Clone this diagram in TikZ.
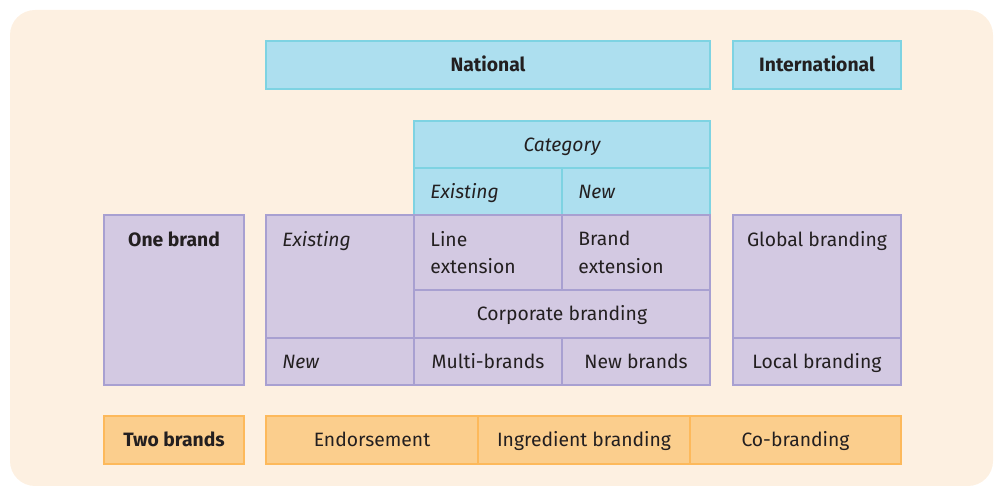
\documentclass[tikz,border=0pt]{standalone}
\usepackage{fontspec}
\setmainfont{Fira Sans}
\usepackage{tikz}
\usetikzlibrary{positioning, fit}

\definecolor{bgcream}{HTML}{FDF0E1}
\definecolor{bluefill}{HTML}{ADDFEF}
\definecolor{blueline}{HTML}{7ED3E2}
\definecolor{purplefill}{HTML}{D3C9E2}
\definecolor{purpleline}{HTML}{A8A0D1}
\definecolor{orangefill}{HTML}{FBCE8D}
\definecolor{orangeline}{HTML}{FDB95B}
\definecolor{inktext}{HTML}{231F20}

\begin{document}
\begin{tikzpicture}[
        x=0.02cm, y=-0.02cm,
        every node/.style={font=\fontsize{11}{15.5}\selectfont, text=inktext},
        cell/.style={rectangle, draw, line width=1.1pt, inner sep=0pt},
        bluecell/.style={cell, fill=bluefill, draw=blueline},
        purplecell/.style={cell, fill=purplefill, draw=purpleline},
        orangecell/.style={cell, fill=orangefill, draw=orangeline},
        mid/.style={label={[inner sep=0pt, text height=7.6pt, text depth=0pt, text=inktext]center:#1}},
        txt/.style={inner sep=0pt, align=left, anchor=north west},
        sidetxt/.style={inner sep=0pt, anchor=base west},
        toptxt/.style={inner sep=0pt, align=center, anchor=north}
    ]
    \useasboundingbox (0,0) rectangle (995,486);
    \fill[bgcream, rounded corners=0.5cm] (10,10) rectangle (993,486);

    % Headers
    \node[bluecell, fit={(266,41) (710,89)}, mid=\bfseries National] (national) {};
    \node[bluecell, fit={(733,41) (901,89)}, mid=\bfseries International] (international) {};
    \node[bluecell, fit={(414,121) (710,168)}, mid=\itshape Category] (category) {};
    \node[bluecell, fit={(414,168) (562,215)}] (catexist) {};
    \node[bluecell, fit={(562,168) (710,215)}] (catnew) {};
    \node[sidetxt] at ([xshift=0.34cm, yshift=-0.14cm]catexist.west) {\itshape Existing};
    \node[sidetxt] at ([xshift=0.34cm, yshift=-0.14cm]catnew.west) {\itshape New};

    % One brand
    \node[purplecell, fit={(104,215) (244,385)}] (onebrand) {};
    \node[toptxt, below=0.34cm of onebrand.north] {\bfseries One brand};

    \node[purplecell, fit={(266,215) (414,338)}] (brexist) {};
    \node[purplecell, fit={(266,338) (414,385)}] (brnew) {};
    \node[txt, below right=0.34cm and 0.34cm of brexist.north west] {\itshape Existing};
    \node[sidetxt] at ([xshift=0.34cm, yshift=-0.14cm]brnew.west) {\itshape New};

    \node[purplecell, fit={(414,215) (562,290)}] (lineext) {};
    \node[purplecell, fit={(562,215) (710,290)}] (brandext) {};
    \node[txt, below right=0.34cm and 0.34cm of lineext.north west] {Line\\extension};
    \node[txt, below right=0.34cm and 0.34cm of brandext.north west] {Brand\\extension};
    \node[purplecell, fit={(414,290) (710,338)}, mid=Corporate branding] (corporate) {};
    \node[purplecell, fit={(414,338) (562,385)}, mid=Multi-brands] (multi) {};
    \node[purplecell, fit={(562,338) (710,385)}, mid=New brands] (newbrands) {};

    \node[purplecell, fit={(733,215) (901,338)}] (global) {};
    \node[toptxt, below=0.34cm of global.north] {Global branding};
    \node[purplecell, fit={(733,338) (901,385)}, mid=Local branding] (local) {};

    % Two brands
    \node[orangecell, fit={(104,416) (244,464)}, mid=\bfseries Two brands] (twobrands) {};
    \node[orangecell, fit={(266,416) (478,464)}, mid=Endorsement] (endorse) {};
    \node[orangecell, fit={(478,416) (690,464)}, mid=Ingredient branding] (ingredient) {};
    \node[orangecell, fit={(690,416) (901,464)}, mid=Co-branding] (cobrand) {};
\end{tikzpicture}
\end{document}
